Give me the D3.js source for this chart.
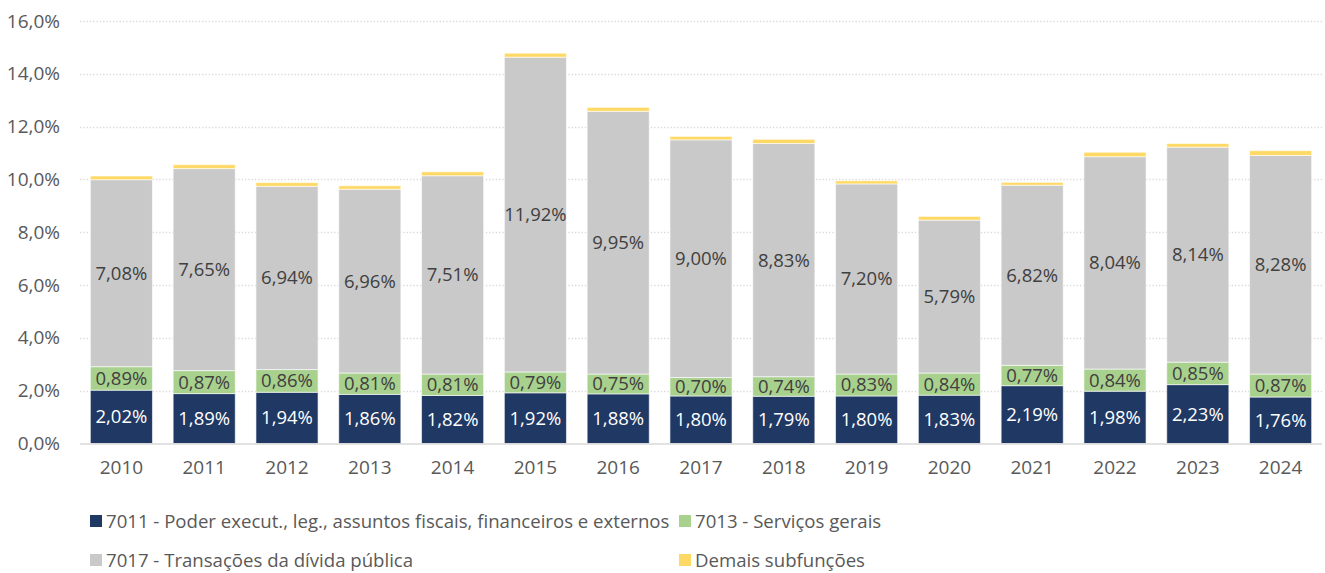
<!DOCTYPE html>
<html>
<head>
<meta charset="utf-8">
<script src="https://cdn.jsdelivr.net/npm/d3@7"></script>
<style>
  body { margin: 0; background: #fff; }
  svg { display: block; font-family: "Open Sans", sans-serif; }
</style>
</head>
<body>
<div id="chart"></div>
<script>
const years = ["2010","2011","2012","2013","2014","2015","2016","2017","2018","2019","2020","2021","2022","2023","2024"];
const poder = [2.02,1.89,1.94,1.86,1.82,1.92,1.88,1.80,1.79,1.80,1.83,2.19,1.98,2.23,1.76];
const servicos = [0.89,0.87,0.86,0.81,0.81,0.79,0.75,0.70,0.74,0.83,0.84,0.77,0.84,0.85,0.87];
const divida = [7.08,7.65,6.94,6.96,7.51,11.92,9.95,9.00,8.83,7.20,5.79,6.82,8.04,8.14,8.28];
const demais = [0.14,0.15,0.14,0.13,0.15,0.15,0.15,0.13,0.16,0.12,0.14,0.11,0.17,0.14,0.18];
const yTicks = [0,2,4,6,8,10,12,14,16];

const seriesKeys = ["poder","servicos","divida","demais"];
const seriesNames = {
    poder: "7011 - Poder execut., leg., assuntos fiscais, financeiros e externos",
    servicos: "7013 - Serviços gerais",
    divida: "7017 - Transações da dívida pública",
    demais: "Demais subfunções"
};
const colors = { poder: "#203864", servicos: "#A9D18E", divida: "#C9C9C9", demais: "#FFD966" };
const labelColors = { poder: "#ffffff", servicos: "#404040", divida: "#404040" };

const width = 1325, height = 573;

const table = years.map((y, i) => ({
    year: y, poder: poder[i], servicos: servicos[i], divida: divida[i], demais: demais[i]
}));

const svg = d3.select("#chart").append("svg")
    .attr("width", width)
    .attr("height", height);

const x = d3.scaleBand()
    .domain(years)
    .range([80, 1322])
    .paddingInner(0.25)
    .paddingOuter(0.125);

const y = d3.scaleLinear()
    .domain([0, 16])
    .range([443.5, 21]);

const fmt = v => v.toFixed(2).replace(".", ",") + "%";
const fmtAxis = v => v.toFixed(1).replace(".", ",") + "%";

// grid
svg.append("g")
    .selectAll("line")
    .data(yTicks.filter(d => d > 0))
    .enter()
    .append("line")
    .attr("x1", 80)
    .attr("x2", 1322)
    .attr("y1", d => Math.round(y(d)) + 0.5)
    .attr("y2", d => Math.round(y(d)) + 0.5)
    .attr("stroke", "#d9d9d9")
    .attr("stroke-width", 1.3)
    .attr("stroke-dasharray", "1.3,2");

// y axis labels
const yAxis = svg.append("g")
    .attr("transform", "translate(60,0)")
    .call(d3.axisLeft(y).tickValues(yTicks).tickFormat(fmtAxis).tickSize(0).tickPadding(0));
yAxis.select(".domain").remove();
yAxis.selectAll("text")
    .style("font-size", "19px")
    .style("font-family", "'Open Sans', sans-serif")
    .attr("fill", "#595959");

// stacked bars
const stacked = d3.stack().keys(seriesKeys)(table);

const layers = svg.append("g")
    .selectAll("g")
    .data(stacked)
    .enter()
    .append("g")
    .attr("fill", d => colors[d.key]);

layers.selectAll("rect")
    .data(d => d)
    .enter()
    .append("rect")
    .attr("x", d => x(d.data.year))
    .attr("width", x.bandwidth())
    .attr("y", d => y(d[1]))
    .attr("height", d => y(d[0]) - y(d[1]))
    .attr("stroke", "#ffffff")
    .attr("stroke-opacity", 0.6)
    .attr("stroke-width", 1);

// baseline
svg.append("line")
    .attr("x1", 80)
    .attr("x2", 1322)
    .attr("y1", y(0) + 0.5)
    .attr("y2", y(0) + 0.5)
    .attr("stroke", "#d9d9d9")
    .attr("stroke-width", 1.5);

// data labels
stacked.filter(s => s.key !== "demais").forEach(s => {
    svg.append("g")
        .selectAll("text")
        .data(s)
        .enter()
        .append("text")
        .attr("x", d => x(d.data.year) + x.bandwidth() / 2)
        .attr("y", d => y((d[0] + d[1]) / 2))
        .attr("dy", "0.35em")
        .attr("text-anchor", "middle")
        .attr("fill", labelColors[s.key])
        .style("font-size", "18.5px")
        .text(d => fmt(d.data[s.key]));
});

// x axis labels
const xAxis = svg.append("g")
    .attr("transform", `translate(0,${y(0) + 17})`)
    .call(d3.axisBottom(x).tickSize(0).tickPadding(0));
xAxis.select(".domain").remove();
xAxis.selectAll("text")
    .style("font-size", "19px")
    .style("font-family", "'Open Sans', sans-serif")
    .attr("fill", "#595959");

// legend
const legendPos = [
    { key: "poder", x: 90, y: 521 },
    { key: "servicos", x: 679, y: 521 },
    { key: "divida", x: 90, y: 560 },
    { key: "demais", x: 679, y: 560 }
];

const legend = svg.append("g")
    .selectAll("g")
    .data(legendPos)
    .enter()
    .append("g")
    .attr("transform", d => `translate(${d.x},${d.y})`);

legend.append("rect")
    .attr("x", 0)
    .attr("y", -6)
    .attr("width", 12)
    .attr("height", 12)
    .attr("fill", d => colors[d.key]);

legend.append("text")
    .attr("x", 16)
    .attr("y", 0)
    .attr("dy", "0.35em")
    .attr("fill", "#595959")
    .style("font-size", "18.6px")
    .text(d => seriesNames[d.key]);
</script>
</body>
</html>
